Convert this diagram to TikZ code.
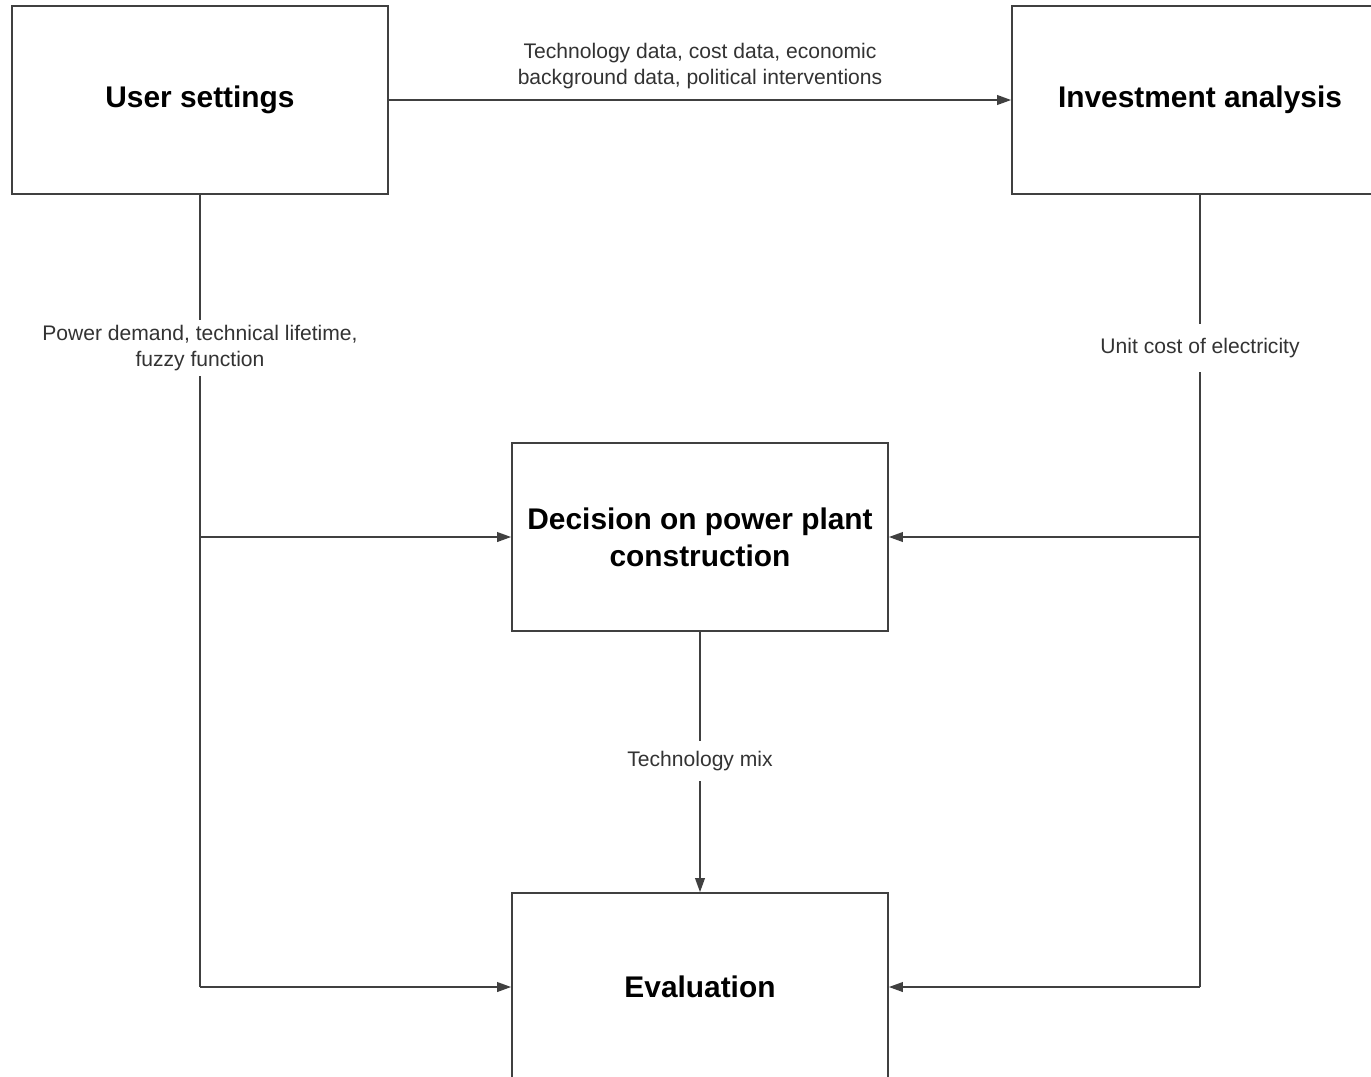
\documentclass[tikz,border=0pt]{standalone}
\usepackage{fontspec}
\setmainfont{Liberation Sans}
\usetikzlibrary{arrows.meta}

\begin{document}
\begin{tikzpicture}[x=0.02cm,y=-0.02cm,
    block/.style={draw=black!75,line width=1pt,fill=white,minimum width=7.52cm,
      minimum height=3.76cm,align=center,font=\fontsize{17}{21}\selectfont\bfseries},
    flow/.style={draw=black!75,line width=1pt,-{Triangle[length=8pt,width=5.5pt]}},
    wire/.style={draw=black!75,line width=1pt},
    tag/.style={fill=white,align=center,text=black!80,inner sep=3pt,
      font=\fontsize{12}{14.5}\selectfont}]
  \useasboundingbox (0,0) rectangle (1371,1076);
  \clip (0,0) rectangle (1371,1076);

  % boxes
  \node[block] (user) at (200,100) {User settings};
  \node[block] (invest) at (1200,100) {Investment analysis};
  \node[block] (decide) at (700,537) {Decision on power plant\\construction};
  \node[block] (evalbox) at (700,987) {Evaluation};

  % top arrow
  \draw[flow] (user.east) -- (invest.west)
    node[midway,above=3pt,tag,fill=none] {Technology data, cost data, economic\\background data, political interventions};

  % left branch
  \draw[wire] (user.south) -- (user.south |- evalbox.west);
  \draw[flow] (user.south |- decide.west) -- (decide.west);
  \draw[flow] (user.south |- evalbox.west) -- (evalbox.west);
  \node[tag] (userlbl) at (200,348) {Power demand, technical lifetime,\\fuzzy function};

  % right branch
  \draw[wire] (invest.south) -- (invest.south |- evalbox.east);
  \draw[flow] (invest.south |- decide.east) -- (decide.east);
  \draw[flow] (invest.south |- evalbox.east) -- (evalbox.east);
  \node[tag,inner sep=8pt] (investlbl) at (1200,348) {Unit cost of electricity};

  % middle
  \draw[flow] (decide.south) -- (evalbox.north);
  \node[tag,inner sep=6pt] (mixlbl) at (700,761) {Technology mix};
\end{tikzpicture}
\end{document}
